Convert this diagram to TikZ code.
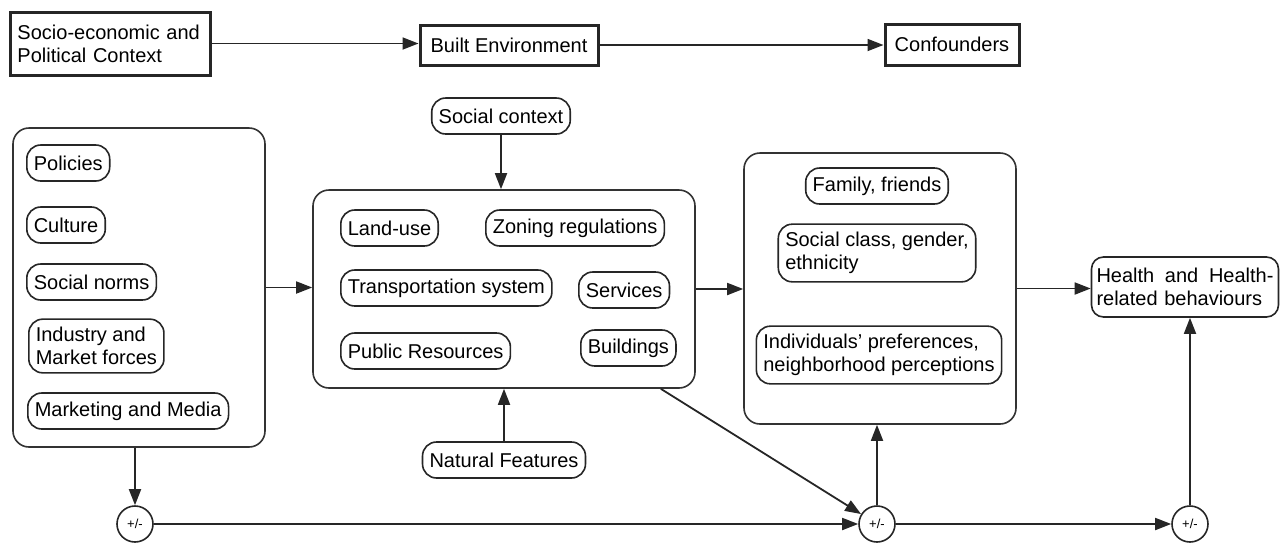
\documentclass[tikz,border=0pt]{standalone}
\usepackage{fontspec}
\setmainfont{Liberation Sans}
\usetikzlibrary{arrows.meta,calc}
\begin{document}
\begin{tikzpicture}[x=0.5pt,y=-0.5pt,
  every node/.style={font=\fontsize{10}{11.5}\selectfont, text=black},
  topbox/.style={draw=black!85, line width=1.5pt, inner xsep=3.5pt, inner ysep=3pt, align=left},
  frame/.style={draw=black!80, rounded corners=8pt, line width=0.8pt, inner sep=0pt},
  pill/.style={draw=black!85, rounded corners=7pt, line width=0.8pt, inner xsep=3.5pt, inner ysep=4pt, minimum height=18pt, align=left},
  pm/.style={draw=black!85, circle, line width=0.8pt, minimum size=18pt, inner sep=0pt, font=\fontsize{6.5}{6.5}\selectfont},
  arr/.style={draw=black!85, line width=0.9pt, -{Triangle[length=8pt,width=6pt]}}
]
\useasboundingbox (0,0) rectangle (1281,542);

% top row
\node[topbox, text width=93pt, minimum height=31.5pt] (socio) at (110.5,43.5) {Socio-economic and\\Political Context};
\node[topbox, minimum width=89pt, minimum height=20pt] (built) at (509,45) {Built Environment};
\node[topbox, minimum width=67pt, minimum height=20.5pt] (conf) at (952,44.5) {Confounders};

% group frames
\node[frame, minimum width=126pt, minimum height=159.5pt] (ctx) at (139,287.5) {};
\node[frame, minimum width=191pt, minimum height=99pt] (be) at (504,289) {};
\node[frame, minimum width=136pt, minimum height=135.5pt] (ind) at (880,288.5) {};

% wider context
\node[pill, anchor=west] (pol) at (26,163) {Policies};
\node[pill, anchor=west] (cul) at (26,225) {Culture};
\node[pill, anchor=west] (nor) at (26,282) {Social norms};
\node[pill, anchor=west] (mkt) at (28,346) {Industry and\\Market forces};
\node[pill, anchor=west] (med) at (27,411) {Marketing and Media};

% built environment
\node[pill] (soc) at (501,116) {Social context};
\node[pill, anchor=west] (land) at (340,228) {Land-use};
\node[pill, anchor=west] (zon) at (485,228) {Zoning regulations};
\node[pill, anchor=west] (tra) at (340,288) {Transportation system};
\node[pill, anchor=west] (ser) at (578,290) {Services};
\node[pill, anchor=west] (pub) at (340,351) {Public Resources};
\node[pill, anchor=west] (bui) at (580,348) {Buildings};
\node[pill] (nat) at (504,460) {Natural Features};

% individual level
\node[pill] (fam) at (877,186) {Family, friends};
\node[pill] (cls) at (877,253) {Social class, gender,\\ethnicity};
\node[pill] (pre) at (879,355) {Individuals' preferences,\\neighborhood perceptions};

% outcome (first line justified to the full width)
\node[pill, rounded corners=6pt, text width=88.5pt, inner xsep=2.5pt, minimum height=30pt] (health) at (1185,287)
  {\hbox to 88.5pt{Health\hfill and\hfill Health-}\\related behaviours};

% effect modifiers
\node[pm] (c1) at (135,524) {+/-};
\node[pm] (c2) at (877,524) {+/-};
\node[pm] (c3) at (1190,524) {+/-};

% connectors
\draw[arr] (socio.east) -- (socio.east -| built.west);
\draw[arr] (built.east) -- (built.east -| conf.west);
\draw[arr] (ctx.east) -- (ctx.east -| be.west);
\draw[arr] (be.east) -- (be.east -| ind.west);
\draw[arr] (ind.east) -- (ind.east -| health.west);
\draw[arr] (soc.south) -- (soc.south |- be.north);
\draw[arr] (nat.north) -- (nat.north |- be.south);
\draw[arr] (c1 |- ctx.south) -- (c1.north);
\draw[arr] (c1) -- (c2);
\draw[arr] (c2) -- (c3);
\draw[arr] (c2) -- (c2 |- ind.south);
\draw[arr] (c3) -- (c3 |- health.south);
\coordinate (d0) at ($(be.south east)+(-35,0)$);
\draw[arr] (d0) -- (c2);
\end{tikzpicture}
\end{document}
